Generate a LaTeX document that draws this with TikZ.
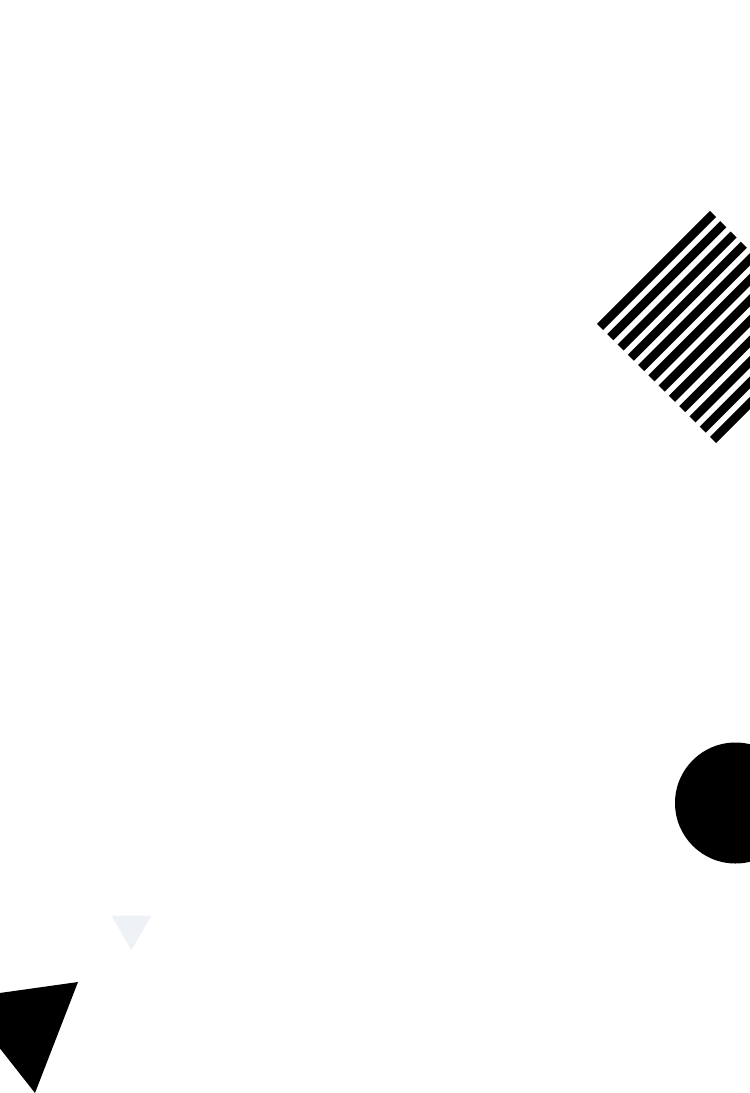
\documentclass[tikz,border=0pt]{standalone}
\usepackage{xcolor}
\usepackage{tikz}
\definecolor{paleGrey}{HTML}{EEF1F6}

\begin{document}
\begin{tikzpicture}[x=0.05cm, y=-0.05cm]
    \def\canvas{(0,0) rectangle (750,1093)}
    \def\blackDot{(735.5,803) circle [radius=60.5]}
    \def\smallTri{(111.5,915.5) -- (151.5,915.5) -- (131.5,950) -- cycle}
    \def\bigTri{(78,982) -- (35,1093) -- (-39.3,998.5) -- cycle}
    \useasboundingbox \canvas;
    \fill[white] \canvas;
    \clip \canvas;
    \fill[black] \blackDot;
    \fill[paleGrey] \smallTri;
    \fill[black] \bigTri;
    \foreach \i in {0,...,11}
        \draw [line width=0.43cm, line cap=butt] (600+10.27*\i,327+10.27*\i) -- (713+10.27*\i,214+10.27*\i);
\end{tikzpicture}
\end{document}
